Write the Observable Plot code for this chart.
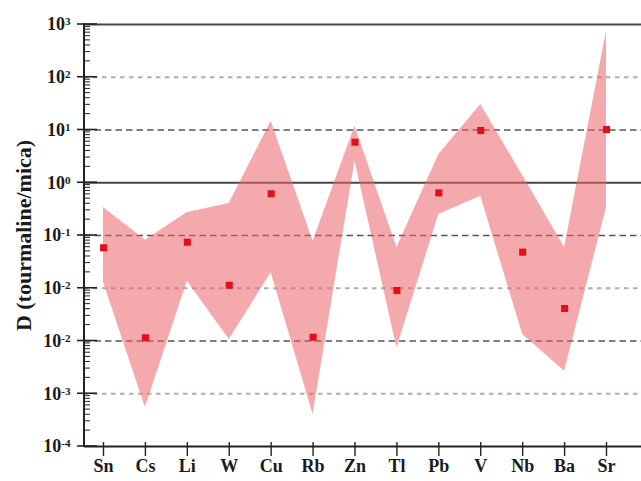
<!DOCTYPE html>
<html><head><meta charset="utf-8">
<script src="https://cdn.jsdelivr.net/npm/d3@7"></script>
<script src="https://cdn.jsdelivr.net/npm/@observablehq/plot@0.6"></script>
<style>html,body{margin:0;padding:0;background:#fff}#chart svg{display:block}</style>
</head><body><div id="chart"></div>
<script>
// Elements (x categories)
const elements = ["Sn","Cs","Li","W","Cu","Rb","Zn","Tl","Pb","V","Nb","Ba","Sr"];
// Upper envelope of the D(tourmaline/mica) range
const upper = [0.34, 0.0815, 0.273, 0.405, 14.7, 0.078, 11.8, 0.0593, 3.44, 30.4, 1.37, 0.0593, 746];
// Lower envelope of the range
const lower = [0.0129, 5.48e-5, 0.0136, 1.07e-3, 0.0196, 4.05e-5, 2.57, 7.4e-4, 0.25, 0.557, 1.33e-3, 2.68e-4, 0.335];
// Red squares
const measured = [0.0585, 1.15e-3, 0.0746, 0.0114, 0.617, 1.18e-3, 5.87, 9.06e-3, 0.644, 9.77, 0.0483, 4.13e-3, 10.2];
// Y tick values and their printed labels (as in the original figure)
const yTickValues = [1e3, 1e2, 1e1, 1, 1e-1, 1e-2, 1e-3, 1e-4, 1e-5];
const yTickExponents = ["3", "2", "1", "0", "-1", "-2", "-2", "-3", "-4"];
const yTitle = "D (tourmaline/mica)";
const dashedLines = [10, 0.1, 1e-3];
const dottedLines = [100, 1e-2, 1e-4];
const solidLines = [1e3, 1];

const band = elements.map((el, i) => ({el, lo: lower[i], hi: upper[i]}));
const points = elements.map((el, i) => ({el, d: measured[i]}));
const expFor = new Map(yTickValues.map((v, i) => [v, yTickExponents[i]]));
const minorTicks = [];
for (let k = -5; k < 3; k++) for (let m = 2; m < 10; m++) minorTicks.push(m * Math.pow(10, k));

const serif = "Liberation Serif, Times New Roman, serif";

function yAxisDecor(index, scales, values, dims) {
  const y = scales.y;
  const x0 = dims.marginLeft;
  const g = d3.create("svg:g").attr("stroke", "#222").attr("fill", "none");
  g.append("line").attr("x1", x0).attr("x2", x0).attr("y1", y(1e3) - 1).attr("y2", y(1e-5) + 1).attr("stroke-width", 2);
  for (const v of yTickValues) {
    g.append("line").attr("x1", x0 - 7).attr("x2", x0 + 13).attr("y1", y(v)).attr("y2", y(v)).attr("stroke-width", 1.6);
  }
  for (const v of minorTicks) {
    g.append("line").attr("x1", x0).attr("x2", x0 + 6).attr("y1", y(v)).attr("y2", y(v)).attr("stroke-width", 1);
  }
  return g.node();
}

const chart = Plot.plot({
  width: 641,
  height: 481,
  marginLeft: 84,
  marginRight: 0,
  marginTop: 24,
  marginBottom: 35,
  insetLeft: 19,
  insetRight: 35,
  style: {fontFamily: serif, fontSize: "18px", fontWeight: "bold", color: "#1a1a1a", background: "#fff"},
  x: {type: "point", domain: elements, padding: 0, round: false, axis: null},
  y: {type: "log", domain: [1e-5, 1e3], axis: null},
  marks: [
    Plot.ruleY(dottedLines, {stroke: "#b3aca8", strokeWidth: 2.2, strokeDasharray: "4.5,4.5"}),
    Plot.ruleY(dashedLines, {stroke: "#555", strokeWidth: 1.3, strokeDasharray: "6.5,4"}),
    Plot.ruleY(solidLines, {stroke: "#4a4745", strokeWidth: 2}),
    Plot.areaY(band, {x: "el", y1: "lo", y2: "hi", fill: "rgb(235,100,104)", fillOpacity: 0.55}),
    Plot.dot(points, {x: "el", y: "d", symbol: "square", r: 4, fill: "#e3101c"}),
    Plot.ruleY([1e-5], {stroke: "#222", strokeWidth: 1.8}),
    Plot.axisX({label: null, tickSize: 14, dy: -4, tickPadding: 3, fontSize: 18, fontWeight: "bold", fontFamily: serif, stroke: "#222", strokeWidth: 1.4}),
    Plot.axisY({label: null, ticks: yTickValues, tickSize: 0, tickPadding: 14, tickFormat: d => "10^" + expFor.get(d), fontSize: 18, fontWeight: "bold", fontFamily: serif}),
    yAxisDecor,
    Plot.text([yTitle], {frameAnchor: "left", textAnchor: "middle", rotate: -90, dx: -61, fontSize: 22, fontWeight: "bold", fontFamily: serif, fill: "#1a1a1a"})
  ]
});

d3.select(chart).selectAll('g[aria-label="y-axis tick label"] text').each(function () {
  const t = this.textContent;
  const parts = t.split("^");
  this.textContent = parts[0];
  d3.select(this).append("tspan").attr("dy", "-0.45em").attr("font-size", "0.62em").text(parts[1]);
});

document.getElementById("chart").appendChild(chart);
</script>
</body></html>
